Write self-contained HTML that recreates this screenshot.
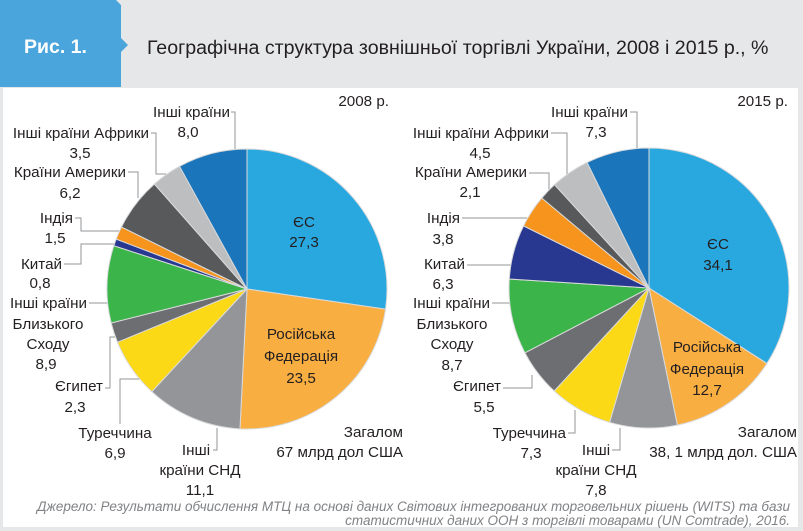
<!DOCTYPE html>
<html><head><meta charset="utf-8"><style>
body{margin:0;background:#fff;}
svg{display:block;font-family:"Liberation Sans",sans-serif;}
text{font-size:15.2px;fill:#231f20;}
</style></head><body>
<svg width="803" height="531" viewBox="0 0 803 531">
<rect x="0" y="0" width="803" height="531" fill="#e6e7e8"/>
<rect x="3" y="88" width="795" height="439" fill="#fff"/>
<path d="M0,0 H116 L121,5 V38 L128,45 L121,52 V87 H0 Z" fill="#4aa5dc"/>
<text x="24" y="53" style="font-size:19.5px;font-weight:bold;fill:#fff">Рис. 1.</text>
<text x="147" y="54" style="font-size:19.6px">Географічна структура зовнішньої торгівлі України, 2008 і 2015 р., %</text>
<g id="pies"></g>
<g id="labels" stroke="none"></g>
<text x="790" y="511" text-anchor="end" style="font-size:13.5px;font-style:italic;fill:#808285">Джерело: Результати обчислення МТЦ на основі даних Світових інтегрованих торговельних рішень (WITS) та бази</text>
<text x="790" y="525" text-anchor="end" style="font-size:13.5px;font-style:italic;fill:#808285">статистичних даних ООН з торгівлі товарами (UN Comtrade), 2016.</text>
</svg>
<script>
const categories=["ЄС","Російська Федерація","Інші країни СНД","Туреччина","Єгипет","Інші країни Близького Сходу","Китай","Індія","Країни Америки","Інші країни Африки","Інші країни"];
const values2008=[27.3,23.5,11.1,6.9,2.3,8.9,0.8,1.5,6.2,3.5,8.0];
const values2015=[34.1,12.7,7.8,7.3,5.5,8.7,6.3,3.8,2.1,4.5,7.3];
const colors=["#29a8e0","#f9ae42","#939598","#fcd917","#6d6e71","#3bb54a","#283891","#f7941d","#58595b","#bcbec0","#1a75bb"];
const NS="http://www.w3.org/2000/svg";
const svg=document.querySelector("svg");
const pies=document.getElementById("pies");
const labels=document.getElementById("labels");
function fmt(v){return v.toFixed(1).replace(".",",");}
function drawPie(vals,cx,cy,r,tag){
  const tot=vals.reduce((a,b)=>a+b,0);
  let a=-Math.PI/2;
  vals.forEach((v,i)=>{
    const b=a+v/tot*2*Math.PI;
    const x1=cx+r*Math.cos(a),y1=cy+r*Math.sin(a),x2=cx+r*Math.cos(b),y2=cy+r*Math.sin(b);
    const p=document.createElementNS(NS,"path");
    p.setAttribute("d",`M${cx},${cy} L${x1},${y1} A${r},${r} 0 ${b-a>Math.PI?1:0} 1 ${x2},${y2} Z`);
    p.setAttribute("fill",colors[i]);
    p.setAttribute("stroke","#d9dadb");
    p.setAttribute("stroke-width","1");
    
    
    pies.appendChild(p);
    a=b;
  });
}
drawPie(values2008,247,289,140,"2008");
drawPie(values2015,649,288,140,"2015");
function T(x,y,s,anchor,name){
  const t=document.createElementNS(NS,"text");
  t.setAttribute("x",x);t.setAttribute("y",y+5);
  t.setAttribute("text-anchor",anchor||"middle");
  t.textContent=s;
  
  
  labels.appendChild(t);
}
function L(pts,name){
  const p=document.createElementNS(NS,"polyline");
  p.setAttribute("points",pts);
  p.setAttribute("fill","none");p.setAttribute("stroke","#939598");p.setAttribute("stroke-width","1");
  
  
  svg.insertBefore(p,pies);
}
const V=values2008,W=values2015;
// 2008
T(389,101,"2008 р.","end","year-label-2008");
T(304,222,"ЄС","middle","label-2008-eu");T(304,242,fmt(V[0]),"middle","value-2008-eu");
T(301,334,"Російська","middle","label-2008-russia");T(301,356,"Федерація","middle","label-2008-russia-2");T(301,378,fmt(V[1]),"middle","value-2008-russia");
T(230,112,"Інші країни","end","label-2008-other");T(188,132,fmt(V[10]),"middle","value-2008-other");L("231,112 235,112 235,150","leader-2008-other");
T(149,133,"Інші країни Африки","end","label-2008-africa");T(80,153,fmt(V[9]),"middle","value-2008-africa");L("151,133 156,133 156,174 166,174","leader-2008-africa");
T(126,172,"Країни Америки","end","label-2008-america");T(70,193,fmt(V[8]),"middle","value-2008-america");L("128,172 138,172 138,198","leader-2008-america");
T(73,218,"Індія","end","label-2008-india");T(55,238,fmt(V[7]),"middle","value-2008-india");L("75,218 81,218 81,231 120,231","leader-2008-india");
T(62,264,"Китай","end","label-2008-china");T(40,283,fmt(V[6]),"middle","value-2008-china");L("64,264 81,264 81,244 118,244","leader-2008-china");
T(87,303,"Інші країни","end","label-2008-mideast");T(48,324,"Близького","middle","label-2008-mideast-2");T(48,344,"Сходу","middle","label-2008-mideast-3");T(46,364,fmt(V[5]),"middle","value-2008-mideast");L("89,303 110,303","leader-2008-mideast");
T(103,386,"Єгипет","end","label-2008-egypt");T(75,407,fmt(V[4]),"middle","value-2008-egypt");L("105,388 110,388 110,337 118,337","leader-2008-egypt");
T(115,433,"Туреччина","middle","label-2008-turkey");T(115,453,fmt(V[3]),"middle","value-2008-turkey");L("120,424 120,379 150,379","leader-2008-turkey");
T(196,450,"Інші","middle","label-2008-cis");T(200,470,"країни СНД","middle","label-2008-cis-2");T(200,490,fmt(V[2]),"middle","value-2008-cis");L("213,450 217,450 217,428","leader-2008-cis");
T(403,432,"Загалом","end","total-2008-label");T(403,452,"67 млрд дол США","end","total-2008-value");
// 2015
T(788,101,"2015 р.","end","year-label-2015");
T(718,244,"ЄС","middle","label-2015-eu");T(718,265,fmt(W[0]),"middle","value-2015-eu");
T(707,347,"Російська","middle","label-2015-russia");T(707,369,"Федерація","middle","label-2015-russia-2");T(707,390,fmt(W[1]),"middle","value-2015-russia");
T(628,112,"Інші країни","end","label-2015-other");T(596,132,fmt(W[10]),"middle","value-2015-other");L("630,112 637,112 637,149","leader-2015-other");
T(549,133,"Інші країни Африки","end","label-2015-africa");T(480,153,fmt(W[9]),"middle","value-2015-africa");L("551,133 567,133 567,176","leader-2015-africa");
T(527,172,"Країни Америки","end","label-2015-america");T(470,192,fmt(W[8]),"middle","value-2015-america");L("529,173 549,173 549,190","leader-2015-america");
T(460,218,"Індія","end","label-2015-india");T(443,239,fmt(W[7]),"middle","value-2015-india");L("462,218 527,218","leader-2015-india");
T(465,264,"Китай","end","label-2015-china");T(443,284,fmt(W[6]),"middle","value-2015-china");L("467,265 511,265","leader-2015-china");
T(490,303,"Інші країни","end","label-2015-mideast");T(452,324,"Близького","middle","label-2015-mideast-2");T(452,344,"Сходу","middle","label-2015-mideast-3");T(452,365,fmt(W[5]),"middle","value-2015-mideast");L("492,303 510,303","leader-2015-mideast");
T(501,386,"Єгипет","end","label-2015-egypt");T(484,407,fmt(W[4]),"middle","value-2015-egypt");L("503,388 532,388 532,375","leader-2015-egypt");
T(566,433,"Туреччина","end","label-2015-turkey");T(531,453,fmt(W[3]),"middle","value-2015-turkey");L("568,433 575,433 575,410","leader-2015-turkey");
T(596,450,"Інші","middle","label-2015-cis");T(596,470,"країни СНД","middle","label-2015-cis-2");T(596,490,fmt(W[2]),"middle","value-2015-cis");L("612,450 620,450 620,428","leader-2015-cis");
T(797,432,"Загалом","end","total-2015-label");T(797,452,"38, 1 млрд дол. США","end","total-2015-value");
</script>
</body></html>
